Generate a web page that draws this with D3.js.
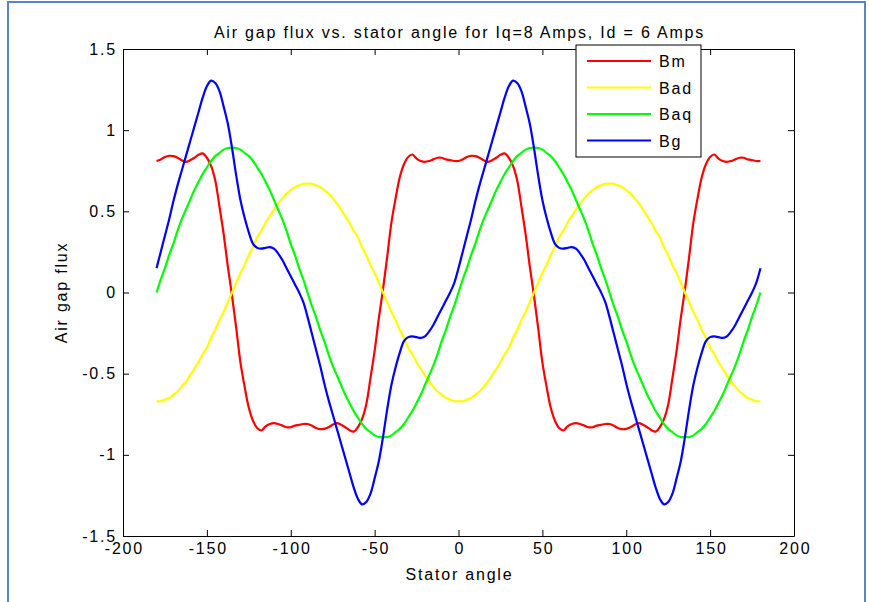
<!DOCTYPE html>
<html>
<head>
<meta charset="utf-8">
<script src="https://cdn.jsdelivr.net/npm/d3@7/dist/d3.min.js"></script>
<style>
  html, body { margin: 0; padding: 0; background: #ffffff; }
  svg { display: block; }
  text { font-family: "Liberation Sans", Arial, Helvetica, sans-serif; fill: #000; }
</style>
</head>
<body>
<svg id="chart" width="869" height="602"></svg>
<script>
// Stator angle samples (degrees)
const angles = [
  -180, -177.5, -175, -172.5, -170, -167.5, -165, -162.5, -160, -157.5,
  -155, -152.5, -150, -147.5, -145, -142.5, -140, -137.5, -135, -132.5,
  -130, -127.5, -125, -122.5, -120, -117.5, -115, -112.5, -110, -107.5,
  -105, -102.5, -100, -97.5, -95, -92.5, -90, -87.5, -85, -82.5,
  -80, -77.5, -75, -72.5, -70, -67.5, -65, -62.5, -60, -57.5,
  -55, -52.5, -50, -47.5, -45, -42.5, -40, -37.5, -35, -32.5,
  -30, -27.5, -25, -22.5, -20, -17.5, -15, -12.5, -10, -7.5,
  -5, -2.5, 0, 2.5, 5, 7.5, 10, 12.5, 15, 17.5,
  20, 22.5, 25, 27.5, 30, 32.5, 35, 37.5, 40, 42.5,
  45, 47.5, 50, 52.5, 55, 57.5, 60, 62.5, 65, 67.5,
  70, 72.5, 75, 77.5, 80, 82.5, 85, 87.5, 90, 92.5,
  95, 97.5, 100, 102.5, 105, 107.5, 110, 112.5, 115, 117.5,
  120, 122.5, 125, 127.5, 130, 132.5, 135, 137.5, 140, 142.5,
  145, 147.5, 150, 152.5, 155, 157.5, 160, 162.5, 165, 167.5,
  170, 172.5, 175, 177.5, 180
];

// Magnet flux density
const bm = [
  0.81, 0.82, 0.835, 0.842, 0.84, 0.83, 0.815, 0.805, 0.815, 0.83,
  0.848, 0.857, 0.83, 0.78, 0.69, 0.53, 0.36, 0.16, -0.02, -0.22,
  -0.43, -0.58, -0.71, -0.79, -0.835, -0.85, -0.825, -0.81, -0.805, -0.81,
  -0.82, -0.83, -0.83, -0.82, -0.815, -0.81, -0.81, -0.82, -0.835, -0.842,
  -0.84, -0.83, -0.815, -0.805, -0.815, -0.83, -0.848, -0.857, -0.83, -0.78,
  -0.69, -0.53, -0.36, -0.16, 0.02, 0.22, 0.43, 0.58, 0.71, 0.79,
  0.835, 0.85, 0.825, 0.81, 0.805, 0.81, 0.82, 0.83, 0.83, 0.82,
  0.815, 0.81, 0.81, 0.82, 0.835, 0.842, 0.84, 0.83, 0.815, 0.805,
  0.815, 0.83, 0.848, 0.857, 0.83, 0.78, 0.69, 0.53, 0.36, 0.16,
  -0.02, -0.22, -0.43, -0.58, -0.71, -0.79, -0.835, -0.85, -0.825, -0.81,
  -0.805, -0.81, -0.82, -0.83, -0.83, -0.82, -0.815, -0.81, -0.81, -0.82,
  -0.835, -0.842, -0.84, -0.83, -0.815, -0.805, -0.815, -0.83, -0.848, -0.857,
  -0.83, -0.78, -0.69, -0.53, -0.36, -0.16, 0.02, 0.22, 0.43, 0.58,
  0.71, 0.79, 0.835, 0.85, 0.825, 0.81, 0.805, 0.81, 0.82, 0.83,
  0.83, 0.82, 0.815, 0.81, 0.81
];

// d-axis armature flux density
const bad = [
  -0.67, -0.67, -0.66, -0.65, -0.63, -0.61, -0.58, -0.55, -0.51, -0.47,
  -0.43, -0.38, -0.34, -0.28, -0.23, -0.17, -0.12, -0.06, 0.00, 0.06,
  0.12, 0.17, 0.23, 0.28, 0.34, 0.38, 0.43, 0.47, 0.51, 0.55,
  0.58, 0.61, 0.63, 0.65, 0.66, 0.67, 0.67, 0.67, 0.66, 0.65,
  0.63, 0.61, 0.58, 0.55, 0.51, 0.47, 0.43, 0.38, 0.34, 0.28,
  0.23, 0.17, 0.12, 0.06, 0.00, -0.06, -0.12, -0.17, -0.23, -0.28,
  -0.34, -0.38, -0.43, -0.47, -0.51, -0.55, -0.58, -0.61, -0.63, -0.65,
  -0.66, -0.67, -0.67, -0.67, -0.66, -0.65, -0.63, -0.61, -0.58, -0.55,
  -0.51, -0.47, -0.43, -0.38, -0.34, -0.28, -0.23, -0.17, -0.12, -0.06,
  0.00, 0.06, 0.12, 0.17, 0.23, 0.28, 0.34, 0.38, 0.43, 0.47,
  0.51, 0.55, 0.58, 0.61, 0.63, 0.65, 0.66, 0.67, 0.67, 0.67,
  0.66, 0.65, 0.63, 0.61, 0.58, 0.55, 0.51, 0.47, 0.43, 0.38,
  0.34, 0.28, 0.23, 0.17, 0.12, 0.06, 0.00, -0.06, -0.12, -0.17,
  -0.23, -0.28, -0.34, -0.38, -0.43, -0.47, -0.51, -0.55, -0.58, -0.61,
  -0.63, -0.65, -0.66, -0.67, -0.67
];

// q-axis armature flux density
const baq = [
  0.00, 0.08, 0.15, 0.23, 0.30, 0.38, 0.45, 0.51, 0.57, 0.63,
  0.68, 0.73, 0.77, 0.81, 0.84, 0.86, 0.88, 0.89, 0.89, 0.89,
  0.88, 0.86, 0.84, 0.81, 0.77, 0.73, 0.68, 0.63, 0.57, 0.51,
  0.45, 0.38, 0.30, 0.23, 0.15, 0.08, 0.00, -0.08, -0.15, -0.23,
  -0.30, -0.38, -0.45, -0.51, -0.57, -0.63, -0.68, -0.73, -0.77, -0.81,
  -0.84, -0.86, -0.88, -0.89, -0.89, -0.89, -0.88, -0.86, -0.84, -0.81,
  -0.77, -0.73, -0.68, -0.63, -0.57, -0.51, -0.45, -0.38, -0.30, -0.23,
  -0.15, -0.08, 0.00, 0.08, 0.15, 0.23, 0.30, 0.38, 0.45, 0.51,
  0.57, 0.63, 0.68, 0.73, 0.77, 0.81, 0.84, 0.86, 0.88, 0.89,
  0.89, 0.89, 0.88, 0.86, 0.84, 0.81, 0.77, 0.73, 0.68, 0.63,
  0.57, 0.51, 0.45, 0.38, 0.30, 0.23, 0.15, 0.08, 0.00, -0.08,
  -0.15, -0.23, -0.30, -0.38, -0.45, -0.51, -0.57, -0.63, -0.68, -0.73,
  -0.77, -0.81, -0.84, -0.86, -0.88, -0.89, -0.89, -0.89, -0.88, -0.86,
  -0.84, -0.81, -0.77, -0.73, -0.68, -0.63, -0.57, -0.51, -0.45, -0.38,
  -0.30, -0.23, -0.15, -0.08, 0.00
];

// Resultant air gap flux density
const bg = [
  0.15, 0.25, 0.35, 0.45, 0.56, 0.66, 0.75, 0.84, 0.93, 1.02,
  1.11, 1.20, 1.27, 1.305, 1.29, 1.24, 1.145, 1.04, 0.89, 0.72,
  0.57, 0.46, 0.37, 0.30, 0.275, 0.27, 0.275, 0.28, 0.27, 0.24,
  0.20, 0.15, 0.10, 0.05, 0.00, -0.06, -0.15, -0.25, -0.35, -0.45,
  -0.56, -0.66, -0.75, -0.84, -0.93, -1.02, -1.11, -1.20, -1.27, -1.305,
  -1.29, -1.24, -1.145, -1.04, -0.89, -0.72, -0.57, -0.46, -0.37, -0.30,
  -0.275, -0.27, -0.275, -0.28, -0.27, -0.24, -0.20, -0.15, -0.10, -0.05,
  0.00, 0.06, 0.15, 0.25, 0.35, 0.45, 0.56, 0.66, 0.75, 0.84,
  0.93, 1.02, 1.11, 1.20, 1.27, 1.305, 1.29, 1.24, 1.145, 1.04,
  0.89, 0.72, 0.57, 0.46, 0.37, 0.30, 0.275, 0.27, 0.275, 0.28,
  0.27, 0.24, 0.20, 0.15, 0.10, 0.05, 0.00, -0.06, -0.15, -0.25,
  -0.35, -0.45, -0.56, -0.66, -0.75, -0.84, -0.93, -1.02, -1.11, -1.20,
  -1.27, -1.305, -1.29, -1.24, -1.145, -1.04, -0.89, -0.72, -0.57, -0.46,
  -0.37, -0.30, -0.275, -0.27, -0.275, -0.28, -0.27, -0.24, -0.20, -0.15,
  -0.10, -0.05, 0.00, 0.06, 0.15
];

const seriesNames = ["Bm", "Bad", "Baq", "Bg"];
const seriesColors = ["#ff0000", "#ffff00", "#00ff00", "#0000ff"];
const xTicks = [-200, -150, -100, -50, 0, 50, 100, 150, 200];
const yTicks = [-1.5, -1, -0.5, 0, 0.5, 1, 1.5];
const xTickLabels = ["-200", "-150", "-100", "-50", "0", "50", "100", "150", "200"];
const yTickLabels = ["-1.5", "-1", "-0.5", "0", "0.5", "1", "1.5"];

const titleText = "Air gap flux vs. stator angle for Iq=8 Amps, Id = 6 Amps";
const xLabelText = "Stator angle";
const yLabelText = "Air gap flux";

const svg = d3.select("#chart");
const W = 869, H = 602;
const plot = { left: 123, right: 794, top: 49, bottom: 536 };

// Outer figure frame
svg.append("rect")
  .attr("x", 8).attr("y", 2)
  .attr("width", 857).attr("height", 640)
  .attr("fill", "#ffffff")
  .attr("stroke", "#5b83c9")
  .attr("stroke-width", 2);

const x = d3.scaleLinear().domain([-200, 200]).range([plot.left, plot.right]);
const y = d3.scaleLinear().domain([-1.5, 1.5]).range([plot.bottom, plot.top]);

const font = { size: "16px", spacing: "1.8px" };

// Series lines
const seriesData = [bm, bad, baq, bg];
const line = d3.line()
  .x(d => x(d[0]))
  .y(d => y(d[1]))
  .curve(d3.curveCatmullRom.alpha(0.5));

const lines = svg.append("g").attr("class", "series");
seriesData.forEach((vals, i) => {
  const pts = angles.map((a, j) => [a, vals[j]]);
  lines.append("path")
    .datum(pts)
    .attr("d", line)
    .attr("fill", "none")
    .attr("stroke", seriesColors[i])
    .attr("stroke-width", 2.2)
    .attr("stroke-linejoin", "round");
});

// Axes: ticks point inward on all four sides
function styleAxis(g) {
  g.select(".domain").attr("stroke", "#000").attr("stroke-width", 1);
  g.selectAll(".tick line").attr("stroke", "#000").attr("stroke-width", 1);
  g.selectAll(".tick text")
    .attr("font-family", '"Liberation Sans", Arial, Helvetica, sans-serif')
    .style("font-size", font.size)
    .style("letter-spacing", font.spacing)
    .attr("fill", "#000");
}

svg.append("g")
  .attr("transform", `translate(0,${plot.bottom})`)
  .call(d3.axisBottom(x).tickValues(xTicks)
    .tickFormat((d, i) => xTickLabels[i])
    .tickSizeInner(-6).tickSizeOuter(0).tickPadding(7))
  .call(styleAxis)
  .call(g => g.selectAll(".tick text").attr("dx", "0.9px"));

svg.append("g")
  .attr("transform", `translate(0,${plot.top})`)
  .call(d3.axisTop(x).tickValues(xTicks).tickFormat("")
    .tickSizeInner(-6).tickSizeOuter(0))
  .call(styleAxis);

svg.append("g")
  .attr("transform", `translate(${plot.left},0)`)
  .call(d3.axisLeft(y).tickValues(yTicks)
    .tickFormat((d, i) => yTickLabels[i])
    .tickSizeInner(-6).tickSizeOuter(0).tickPadding(6))
  .call(styleAxis);

svg.append("g")
  .attr("transform", `translate(${plot.right},0)`)
  .call(d3.axisRight(y).tickValues(yTicks).tickFormat("")
    .tickSizeInner(-6).tickSizeOuter(0))
  .call(styleAxis);

// Title and axis labels
svg.append("text")
  .attr("x", (plot.left + plot.right) / 2 + 1)
  .attr("y", 38)
  .attr("text-anchor", "middle")
  .style("font-size", font.size)
  .style("letter-spacing", font.spacing)
  .text(titleText);

svg.append("text")
  .attr("x", (plot.left + plot.right) / 2 + 1)
  .attr("y", 580)
  .attr("text-anchor", "middle")
  .style("font-size", font.size)
  .style("letter-spacing", font.spacing)
  .text(xLabelText);

svg.append("text")
  .attr("transform", `translate(67,${(plot.top + plot.bottom) / 2}) rotate(-90)`)
  .attr("text-anchor", "middle")
  .style("font-size", font.size)
  .style("letter-spacing", font.spacing)
  .text(yLabelText);

// Legend
const legend = { x: 576, y: 45, w: 125, h: 112, rowTop: 61, rowStep: 26.5 };
const lg = svg.append("g").attr("class", "legend");
lg.append("rect")
  .attr("x", legend.x).attr("y", legend.y)
  .attr("width", legend.w).attr("height", legend.h)
  .attr("fill", "#ffffff")
  .attr("stroke", "#000")
  .attr("stroke-width", 1);

seriesNames.forEach((name, i) => {
  const cy = legend.rowTop + i * legend.rowStep;
  lg.append("line")
    .attr("x1", legend.x + 11).attr("x2", legend.x + 75)
    .attr("y1", cy).attr("y2", cy)
    .attr("stroke", seriesColors[i])
    .attr("stroke-width", 2.2);
  lg.append("text")
    .attr("x", legend.x + 83)
    .attr("y", cy + 6)
    .style("font-size", font.size)
    .style("letter-spacing", font.spacing)
    .text(name);
});
</script>
</body>
</html>
